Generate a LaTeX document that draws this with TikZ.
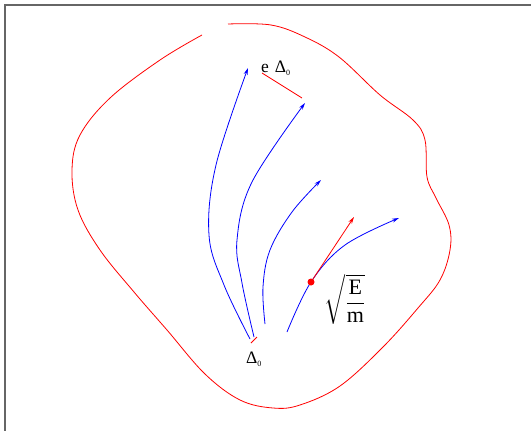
\documentclass[tikz,border=0pt]{standalone}
\usepackage{amsmath}
\usepackage{exscale}
\usepackage{fontspec}
\setmainfont{Liberation Serif}
\usetikzlibrary{arrows.meta}
\begin{document}
\begin{tikzpicture}[x=1pt,y=-1pt,
  redline/.style={red, line width=0.8pt},
  path/.style={blue, line width=0.8pt, -{Stealth[length=7pt,width=4pt]}},
  lbl/.style={inner sep=0pt, font=\fontsize{17.5}{20}\selectfont}]
\newcommand{\subzero}{\raisebox{-2.5pt}{\fontsize{8}{8}\selectfont 0}}
\useasboundingbox (0,0) rectangle (531,431);
\draw[gray!80!black, line width=1.2pt] (531,5) -- (5,5) -- (5,431);
% outer red curve
\draw[redline] plot[smooth, tension=0.6] coordinates {
 (228,24) (271,25) (305,37) (339,57) (380,95) (413,120) (425,140)
 (427,177) (436,198) (449,225) (450,250) (440,280)
 (418,308) (383,347) (340,386) (300,405) (273,408) (240,400) (205,374)
 (167,330) (134,292) (100,250) (78,210) (72,170) (80,135)
 (110,98) (160,60) (202,35)};
% blue paths
\coordinate (s1) at (250,339); \coordinate (t1) at (248,68);
\coordinate (s2) at (254,337); \coordinate (t2) at (305,103);
\coordinate (s3) at (265,324); \coordinate (t3) at (321,180);
\coordinate (s4) at (287,332); \coordinate (t4) at (399,218);
\draw[path] plot[smooth, tension=0.6] coordinates {(s1) (224,285) (209,235) (216,165) (t1)};
\draw[path] plot[smooth, tension=0.6] coordinates {(s2) (242,283) (237,240) (252,182) (t2)};
\draw[path] plot[smooth, tension=0.6] coordinates {(s3) (263,287) (270,250) (292,212) (t3)};
\draw[path] plot[smooth, tension=0.6] coordinates {(s4) (311,282) (345,245) (t4)};
% red tangent arrow
\node[circle, fill=red, inner sep=0pt, minimum size=7pt] (dot) at (311,282) {};
\coordinate (tip) at (354,217);
\draw[redline, -{Stealth[length=7pt,width=4pt]}] (dot.center) -- (tip);
% e Delta segment
\coordinate (ea) at (262,73); \coordinate (eb) at (302,98);
\draw[redline] (ea) -- (eb);
\coordinate (da) at (251,343); \coordinate (db) at (257,337);
\draw[redline] (da) -- (db);
% labels
\node[lbl, anchor=base west] (edelta) at (261,72.5) {e\hspace{6pt}Δ\subzero};
\node[lbl, anchor=base west] (delta) at (246,363.5) {Δ\subzero};
\node[inner sep=0pt, font=\fontsize{22}{24}\selectfont] (sq) at (345,299) {$\displaystyle\sqrt{\frac{\mathrm{E}}{\mathrm{m}}}$};
\end{tikzpicture}
\end{document}
